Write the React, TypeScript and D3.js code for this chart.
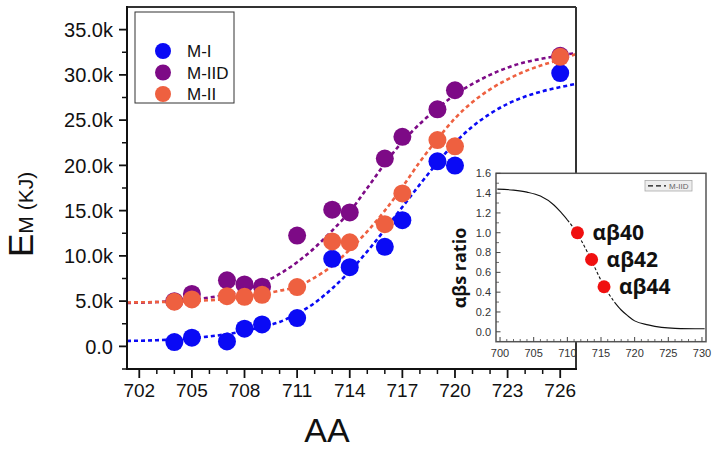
import React from 'react';
import * as d3 from 'd3';

// measured points (AA, E in thousands of KJ)
const aaPoints = [704, 705, 707, 708, 709, 711, 713, 714, 716, 717, 719, 720, 726];
const emMI = [0.47, 0.96, 0.55, 1.95, 2.43, 3.13, 9.68, 8.75, 11.0, 13.94, 20.45, 19.98, 30.2];
const emMIID = [5.0, 5.8, 7.3, 6.85, 6.6, 12.25, 15.1, 14.8, 20.75, 23.15, 26.2, 28.3, 32.1];
const emMII = [4.93, 5.19, 5.55, 5.48, 5.7, 6.55, 11.6, 11.5, 13.5, 16.9, 22.8, 22.1, 32.0];

// fitted curves
const aaFit = [701.3, 703, 705, 706, 707, 708, 709, 710, 711, 712, 713, 714, 715, 716, 717, 718, 719, 720, 721, 722, 723, 724, 725, 726, 726.9];
const fitMI = [0.6, 0.68, 0.9, 1.1, 1.35, 1.7, 2.15, 2.7, 3.6, 4.8, 6.4, 8.3, 10.5, 12.9, 15.4, 17.9, 20.3, 22.5, 24.3, 25.7, 26.8, 27.6, 28.2, 28.65, 29.0];
const fitMIID = [4.8, 4.9, 5.15, 5.4, 5.75, 6.25, 7.0, 8.0, 9.3, 10.9, 12.8, 14.9, 17.5, 20.2, 22.6, 24.6, 26.3, 27.8, 29.0, 30.0, 30.8, 31.4, 31.8, 32.15, 32.4];
const fitMII = [4.85, 4.9, 5.0, 5.1, 5.25, 5.5, 5.8, 6.15, 6.6, 7.6, 8.9, 10.7, 12.7, 15.0, 17.6, 20.4, 22.9, 25.2, 27.0, 28.4, 29.5, 30.4, 31.1, 31.7, 32.3];

const seriesNames = ['M-I', 'M-IID', 'M-II'];
const seriesColors = ['#0a0af5', '#7d0a86', '#ee6040'];

const xTicks = [702, 705, 708, 711, 714, 717, 720, 723, 726];
const yTicks = [0, 5, 10, 15, 20, 25, 30, 35];

// inset
const insetAA = [699.6, 702, 704, 706, 708, 709, 710, 711, 712, 713, 714, 715, 716, 717, 718, 719, 720, 722, 724, 726, 730.4];
const insetRatio = [1.44, 1.43, 1.41, 1.37, 1.28, 1.21, 1.13, 1.04, 0.93, 0.8, 0.66, 0.52, 0.4, 0.3, 0.22, 0.16, 0.11, 0.07, 0.045, 0.035, 0.03];
const abAA = [711.5, 713.6, 715.45];
const abRatio = [1.0, 0.73, 0.455];
const abLabels = ['αβ40', 'αβ42', 'αβ44'];
const insetXTicks = [700, 705, 710, 715, 720, 725, 730];
const insetYTicks = [0, 0.2, 0.4, 0.6, 0.8, 1.0, 1.2, 1.4, 1.6];

const font = '"Liberation Sans", Arial, sans-serif';
const boldFont = '"Open Sans", "DejaVu Sans", sans-serif';

const App: React.FC = () => {
  const x = d3.scaleLinear().domain([701.3, 726.9]).range([127, 576]);
  const y = d3.scaleLinear().domain([-2.5, 37.5]).range([369, 7]);
  const line = d3.line<[number, number]>().x(d => x(d[0])).y(d => y(d[1])).curve(d3.curveMonotoneX);

  const ix = d3.scaleLinear().domain([699.4, 730.6]).range([496, 706]);
  const iy = d3.scaleLinear().domain([-0.1, 1.6]).range([341.7, 173.3]);
  const iline = d3.line<[number, number]>().x(d => ix(d[0])).y(d => iy(d[1])).curve(d3.curveMonotoneX);

  const points = [emMI, emMIID, emMII];
  const fits = [fitMI, fitMIID, fitMII];
  const minorX = d3.range(702, 727, 1).filter(v => !xTicks.includes(v));
  const minorY = d3.range(-2.5, 37.5, 5);
  const fmt = (v: number) => (v === 0 ? '0.0' : `${v.toFixed(1)}k`);

  const insetPts = insetAA.map((a, j) => [a, insetRatio[j]] as [number, number]);
  // the steep middle part of the inset curve shows its dashes, the flat ends look solid
  const insetParts = [insetPts.slice(0, 7), insetPts.slice(6, 14), insetPts.slice(13)];

  return (
    <div style={{ position: 'absolute', left: 0, top: 0 }}>
      <svg width={720} height={451} style={{ display: 'block', background: '#fff' }} fontFamily={font}>
        {/* fit curves */}
        {fits.map((f, i) => (
          <path key={'f' + i} d={line(aaFit.map((a, j) => [a, f[j]]) as [number, number][]) || ''}
            fill="none" stroke={seriesColors[i]} strokeWidth={2.6} strokeDasharray="4,3" />
        ))}
        {/* points: blue, purple, orange */}
        {points.map((p, i) => (
          <g key={'p' + i}>
            {p.map((v, j) => (
              <circle key={j} cx={x(aaPoints[j])} cy={y(v)} r={9} fill={seriesColors[i]} />
            ))}
          </g>
        ))}
        {/* frame */}
        <line x1={127} x2={576} y1={7} y2={7} stroke="#333" strokeWidth={2} />
        <line x1={576} x2={576} y1={7} y2={370} stroke="#333" strokeWidth={2} />
        <line x1={127} x2={127} y1={6} y2={370} stroke="#111" strokeWidth={2} />
        <line x1={126} x2={577} y1={369} y2={369} stroke="#111" strokeWidth={2} />
        {/* y axis */}
        {yTicks.map(v => (
          <g key={'y' + v}>
            <line x1={119} x2={127} y1={y(v)} y2={y(v)} stroke="#111" strokeWidth={1.8} />
            <text x={113} y={y(v)} dy="0.36em" textAnchor="end" fontSize={20} fill="#111">{fmt(v)}</text>
          </g>
        ))}
        {minorY.map(v => (
          <line key={'ym' + v} x1={122} x2={127} y1={y(v)} y2={y(v)} stroke="#111" strokeWidth={1.5} />
        ))}
        {/* x axis */}
        {xTicks.map(v => (
          <g key={'x' + v}>
            <line x1={x(v)} x2={x(v)} y1={369} y2={378} stroke="#111" strokeWidth={1.8} />
            <text x={x(v)} y={397} textAnchor="middle" fontSize={19} fill="#111">{v}</text>
          </g>
        ))}
        {minorX.map(v => (
          <line key={'xm' + v} x1={x(v)} x2={x(v)} y1={369} y2={374} stroke="#111" strokeWidth={1.5} />
        ))}
        <text x={327} y={442} textAnchor="middle" fontSize={34} fill="#111">AA</text>
        <text transform="translate(33,257) rotate(-90)" fill="#111">
          <tspan fontSize={35}>E</tspan>
          <tspan fontSize={21}>M (KJ)</tspan>
        </text>
        {/* legend */}
        <rect x={135} y={12} width={99} height={91} fill="#fff" stroke="#333" strokeWidth={1} />
        {seriesNames.map((n, i) => (
          <g key={'l' + i}>
            <circle cx={163} cy={51 + i * 21.5} r={8} fill={seriesColors[i]} />
            <text x={187} y={51 + i * 21.5} dy="0.36em" fontSize={17} fill="#111">{n}</text>
          </g>
        ))}
        {/* inset */}
        <rect x={496} y={173.3} width={210} height={168.4} fill="#fff" stroke="#555" strokeWidth={1.5} />
        {insetXTicks.map(v => (
          <g key={'ix' + v}>
            <line x1={ix(v)} x2={ix(v)} y1={341.7} y2={337} stroke="#444" strokeWidth={1} />
            <text x={ix(v)} y={357} textAnchor="middle" fontSize={11} fill="#333">{v}</text>
          </g>
        ))}
        {d3.range(700, 731, 1).filter(v => v % 5 !== 0).map(v => (
          <line key={'ixm' + v} x1={ix(v)} x2={ix(v)} y1={341.7} y2={339} stroke="#444" strokeWidth={0.8} />
        ))}
        {insetYTicks.map(v => (
          <g key={'iy' + v}>
            <line x1={496} x2={500.5} y1={iy(v)} y2={iy(v)} stroke="#444" strokeWidth={1} />
            <text x={491} y={iy(v)} dy="0.35em" textAnchor="end" fontSize={11} fill="#333">{v.toFixed(1)}</text>
          </g>
        ))}
        {d3.range(0.1, 1.6, 0.2).map(v => (
          <line key={'iym' + v} x1={496} x2={499} y1={iy(v)} y2={iy(v)} stroke="#444" strokeWidth={0.8} />
        ))}
        {insetParts.map((part, k) => (
          <path key={'ic' + k} d={iline(part) || ''} fill="none" stroke="#111" strokeWidth={1.1}
            strokeDasharray={k === 1 ? '3,2' : undefined} />
        ))}
        {abAA.map((a, j) => (
          <circle key={'ab' + j} cx={ix(a)} cy={iy(abRatio[j])} r={6.5} fill="#f01010" />
        ))}
        {abLabels.map((t, j) => (
          <text key={'abl' + j} x={ix(abAA[j]) + 15} y={iy(abRatio[j])} dy="0.35em"
            fontSize={21} fontWeight="bold" fontFamily={boldFont} fill="#111">{t}</text>
        ))}
        <rect x={645} y={180.5} width={47} height={10.5} fill="#eee" stroke="#aaa" strokeWidth={0.8} />
        <line x1={648} x2={666} y1={185.8} y2={185.8} stroke="#111" strokeWidth={1.2} strokeDasharray="5,3" />
        <text x={669} y={185.8} dy="0.35em" fontSize={8} fill="#666">M-IID</text>
        <text transform="translate(466,268) rotate(-90)" textAnchor="middle" fontSize={18} fontWeight="bold"
          fontFamily={boldFont} fill="#111">αβs ratio</text>
      </svg>
    </div>
  );
};

export default App;
